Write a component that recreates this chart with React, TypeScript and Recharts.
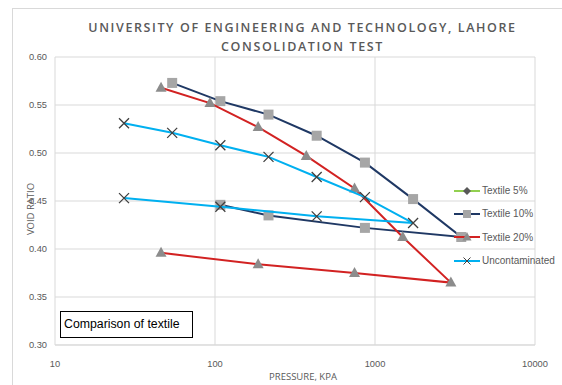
import React from "react";
import {
  ScatterChart,
  Scatter,
  XAxis,
  YAxis,
  CartesianGrid,
} from "recharts";

// consolidation test readings: pressure (kPa) and void ratio, load then unload
const textile5Pressure: number[] = [];
const textile5Void: number[] = [];

const textile10Pressure = [54, 108, 216, 432, 865, 1730, 3460, 865, 216, 108];
const textile10Void = [0.573, 0.554, 0.54, 0.518, 0.49, 0.452, 0.4125, 0.422, 0.435, 0.446];

const textile20Pressure = [46, 93, 186, 372, 745, 1490, 2980, 745, 186, 46];
const textile20Void = [0.568, 0.552, 0.527, 0.497, 0.463, 0.4125, 0.365, 0.375, 0.384, 0.396];

const uncontPressure = [27, 54, 108, 216, 432, 865, 1730, 432, 108, 27];
const uncontVoid = [0.531, 0.521, 0.508, 0.496, 0.475, 0.454, 0.427, 0.434, 0.444, 0.453];

const xTicks = [10, 100, 1000, 10000];
const yTicks = [0.3, 0.35, 0.4, 0.45, 0.5, 0.55, 0.6];

const toPoints = (p: number[], v: number[]) => p.map((x, i) => ({ x, y: v[i] }));

const grey = "#595959";

const Square = (props: any) => {
  const { cx, cy } = props;
  if (cx == null || cy == null) return null;
  return <rect x={cx - 5} y={cy - 5} width={10} height={10} fill="#A6A6A6" />;
};

const Triangle = (props: any) => {
  const { cx, cy } = props;
  if (cx == null || cy == null) return null;
  return <path d={`M${cx},${cy - 6} L${cx + 5.5},${cy + 4} L${cx - 5.5},${cy + 4} Z`} fill="#8C8C8C" />;
};

const Cross = (props: any) => {
  const { cx, cy } = props;
  if (cx == null || cy == null) return null;
  return (
    <path
      d={`M${cx - 5},${cy - 5} L${cx + 5},${cy + 5} M${cx + 5},${cy - 5} L${cx - 5},${cy + 5}`}
      stroke="#404040"
      strokeWidth={1.3}
    />
  );
};

const Diamond = (props: any) => {
  const { cx, cy } = props;
  if (cx == null || cy == null) return null;
  return <path d={`M${cx},${cy - 4} L${cx + 4},${cy} L${cx},${cy + 4} L${cx - 4},${cy} Z`} fill="#595959" />;
};

const series = [
  { name: "Textile 5%", color: "#92D050", marker: "diamond" },
  { name: "Textile 10%", color: "#1F3864", marker: "square" },
  { name: "Textile 20%", color: "#D22222", marker: "triangle" },
  { name: "Uncontaminated", color: "#00B0F0", marker: "cross" },
];

const legendIcon = (marker: string, color: string) => {
  return (
    <svg width={26} height={10} style={{ display: "block" }}>
      <line x1={0} y1={5} x2={26} y2={5} stroke={color} strokeWidth={2} />
      {marker === "diamond" && <Diamond cx={13} cy={5} />}
      {marker === "square" && <rect x={9} y={1} width={8} height={8} fill="#A6A6A6" />}
      {marker === "triangle" && <path d="M13,0 L17.5,8.5 L8.5,8.5 Z" fill="#8C8C8C" />}
      {marker === "cross" && <path d="M9.5,1.5 L16.5,8.5 M16.5,1.5 L9.5,8.5" stroke="#404040" strokeWidth={1} />}
    </svg>
  );
};

const ChartLegend = () => (
  <div
    style={{
      position: "absolute",
      left: 454,
      top: 179,
      fontFamily: "'Liberation Sans', Arial, sans-serif",
      fontSize: 10,
      color: grey,
    }}
  >
    {series.map((s) => (
      <div key={s.name} style={{ display: "flex", alignItems: "center", height: 23.3 }}>
        {legendIcon(s.marker, s.color)}
        <span style={{ marginLeft: 2, whiteSpace: "nowrap" }}>{s.name}</span>
      </div>
    ))}
  </div>
);

export default function App() {
  const tickStyle = { fontSize: 9.3, fill: grey, fontFamily: "'Liberation Sans', Arial, sans-serif" };
  return (
    <div style={{ position: "absolute", left: 0, top: 0, width: 562, height: 385, background: "#fff", overflow: "hidden" }}>
      {/* chart frame */}
      <div
        style={{
          position: "absolute",
          left: 12,
          top: 8,
          width: 560,
          height: 390,
          borderTop: "1px solid #D9D9D9",
          borderLeft: "1px solid #D9D9D9",
        }}
      />
      <div
        style={{
          position: "absolute",
          left: 0,
          width: 605,
          top: 19,
          textAlign: "center",
          fontFamily: "'Open Sans', sans-serif",
          fontWeight: 600,
          fontSize: 12.5,
          letterSpacing: 1.6,
          lineHeight: "18.5px",
          color: grey,
        }}
      >
        UNIVERSITY OF ENGINEERING AND TECHNOLOGY, LAHORE
        <br />
        CONSOLIDATION TEST
      </div>
      <ScatterChart width={562} height={385} margin={{ top: 57, right: 27, bottom: 15, left: 10 }}>
        <CartesianGrid stroke="#D9D9D9" strokeWidth={1} />
        <XAxis
          type="number"
          dataKey="x"
          scale="log"
          domain={[10, 10000]}
          ticks={xTicks}
          allowDataOverflow
          tickLine={false}
          axisLine={{ stroke: "#D9D9D9" }}
          tickSize={0}
          tickMargin={15}
          tick={tickStyle}
          height={25}
        />
        <YAxis
          type="number"
          dataKey="y"
          domain={[0.3, 0.6]}
          ticks={yTicks}
          allowDataOverflow
          tickLine={false}
          axisLine={false}
          tickSize={0}
          tickMargin={8}
          tick={tickStyle}
          tickFormatter={(v: number) => v.toFixed(2)}
          width={45}
        />
        <Scatter
          name="Textile 5%"
          data={toPoints(textile5Pressure, textile5Void)}
          line={{ stroke: "#92D050", strokeWidth: 2 }}
          shape={Diamond}
          isAnimationActive={false}
        />
        <Scatter
          name="Textile 10%"
          data={toPoints(textile10Pressure, textile10Void)}
          line={{ stroke: "#1F3864", strokeWidth: 2 }}
          shape={Square}
          isAnimationActive={false}
        />
        <Scatter
          name="Textile 20%"
          data={toPoints(textile20Pressure, textile20Void)}
          line={{ stroke: "#D22222", strokeWidth: 2 }}
          shape={Triangle}
          isAnimationActive={false}
        />
        <Scatter
          name="Uncontaminated"
          data={toPoints(uncontPressure, uncontVoid)}
          line={{ stroke: "#00B0F0", strokeWidth: 2 }}
          shape={Cross}
          isAnimationActive={false}
        />
      </ScatterChart>
      <ChartLegend />
      <div
        style={{
          position: "absolute",
          left: 30,
          top: 209,
          transform: "translate(-50%, -50%) rotate(-90deg)",
          fontFamily: "'Open Sans', sans-serif",
          fontSize: 9.5,
          color: grey,
          whiteSpace: "nowrap",
        }}
      >
        VOID RATIO
      </div>
      <div
        style={{
          position: "absolute",
          left: 303,
          top: 376,
          transform: "translate(-50%, -50%)",
          fontFamily: "'Open Sans', sans-serif",
          fontSize: 9.5,
          color: grey,
          whiteSpace: "nowrap",
        }}
      >
        PRESSURE, KPA
      </div>
      <div
        style={{
          position: "absolute",
          left: 60,
          top: 311,
          width: 128,
          height: 25,
          border: "1.5px solid #000",
          fontFamily: "'Liberation Sans', Arial, sans-serif",
          fontSize: 12.3,
          lineHeight: "25px",
          paddingLeft: 3,
          boxSizing: "content-box",
          color: "#000",
        }}
      >
        Comparison of textile
      </div>
    </div>
  );
}
